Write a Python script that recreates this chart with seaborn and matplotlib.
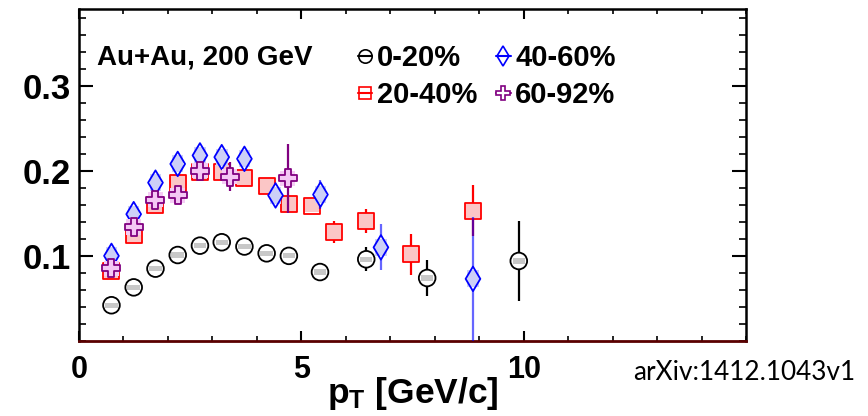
import matplotlib
matplotlib.use("Agg")
import matplotlib.pyplot as plt
import seaborn as sns
import pandas as pd
from matplotlib.patches import Rectangle
from matplotlib.lines import Line2D
from matplotlib.ticker import MultipleLocator

# ---------------- data ----------------
pt_0_20 = [0.73, 1.23, 1.72, 2.22, 2.72, 3.21, 3.72, 4.22, 4.72, 5.42, 6.46, 7.83, 9.89]
v_0_20 = [0.042, 0.063, 0.085, 0.101, 0.112, 0.116, 0.111, 0.103, 0.100, 0.081, 0.096, 0.074, 0.094]
stat_0_20 = [0.002, 0.002, 0.002, 0.002, 0.002, 0.002, 0.002, 0.002, 0.002, 0.004, 0.014, 0.021, 0.047]
sys_0_20 = [0.003, 0.003, 0.003, 0.003, 0.003, 0.003, 0.003, 0.003, 0.003, 0.003, 0.003, 0.003, 0.003]

pt_20_40 = [0.73, 1.23, 1.72, 2.22, 2.72, 3.21, 3.72, 4.22, 4.72, 5.23, 5.74, 6.46, 7.47, 8.86]
v_20_40 = [0.082, 0.125, 0.160, 0.186, 0.198, 0.198, 0.191, 0.182, 0.161, 0.159, 0.128, 0.141, 0.102, 0.153]
stat_20_40 = [0.002, 0.002, 0.002, 0.002, 0.002, 0.002, 0.002, 0.002, 0.003, 0.004, 0.013, 0.014, 0.024, 0.030]
sys_20_40 = [0.009, 0.009, 0.009, 0.009, 0.009, 0.009, 0.009, 0.009, 0.009, 0.008, 0.008, 0.008, 0.008, 0.008]

pt_40_60 = [0.73, 1.23, 1.72, 2.22, 2.72, 3.21, 3.72, 4.42, 5.43, 6.79, 8.86]
v_40_60 = [0.100, 0.149, 0.186, 0.208, 0.218, 0.216, 0.214, 0.171, 0.172, 0.110, 0.073]
stat_40_60 = [0.003, 0.003, 0.003, 0.003, 0.003, 0.003, 0.003, 0.004, 0.017, 0.027, 0.073]
sys_40_60 = [0.010, 0.010, 0.010, 0.010, 0.010, 0.010, 0.010, 0.010, 0.010, 0.010, 0.010]

pt_60_92 = [0.73, 1.23, 1.72, 2.22, 2.72, 3.39, 4.69]
v_60_92 = [0.0855, 0.134, 0.166, 0.171, 0.200, 0.193, 0.191]
stat_60_92 = [0.004, 0.005, 0.005, 0.005, 0.006, 0.017, 0.041]
sys_60_92 = [0.009, 0.009, 0.009, 0.009, 0.009, 0.009, 0.009]

labels = ["0-20%", "20-40%", "40-60%", "60-92%"]
x_ticks = [0, 5, 10]
y_ticks = [0.1, 0.2, 0.3]

# ---------------- style ----------------
sns.set_theme(style="ticks")
plt.rcParams["font.family"] = ["Liberation Sans", "DejaVu Sans"]
plt.rcParams["font.weight"] = "bold"
for k in ["text.color", "axes.labelcolor", "xtick.color", "ytick.color", "axes.edgecolor"]:
    plt.rcParams[k] = "black"
plt.rcParams["mathtext.fontset"] = "custom"
plt.rcParams["mathtext.rm"] = "Liberation Sans:bold"
plt.rcParams["mathtext.bf"] = "Liberation Sans:bold"
plt.rcParams["mathtext.it"] = "Liberation Sans:bold"

series = [
    dict(pt=pt_0_20, v=v_0_20, stat=stat_0_20, sys=sys_0_20, label=labels[0],
         marker="o", ms=12, edge="black", face="none", ecol="black", ealpha=1.0,
         boxcol="#c8c8c8", boxhw=0.14),
    dict(pt=pt_20_40, v=v_20_40, stat=stat_20_40, sys=sys_20_40, label=labels[1],
         marker="s", ms=11.5, edge="#ff0000", face="none", ecol="#ff0000", ealpha=1.0,
         boxcol="#fbc6c6", boxhw=0.17),
    dict(pt=pt_40_60, v=v_40_60, stat=stat_40_60, sys=sys_40_60, label=labels[2],
         marker="d", ms=12.5, edge="#0000ff", face="none", ecol="#0000ff", ealpha=0.6,
         boxcol="#cdd0f7", boxhw=0.13),
    dict(pt=pt_60_92, v=v_60_92, stat=stat_60_92, sys=sys_60_92, label=labels[3],
         marker="P", ms=13, edge="#800080", face="#f5c8f5", ecol="#800080", ealpha=1.0,
         boxcol="#f5ccf5", boxhw=0.17),
]

fig = plt.figure(figsize=(8.68, 4.16), dpi=100)
ax = fig.add_axes([79 / 868, 75 / 416, 667 / 868, 332 / 416])
ax.set_facecolor("white")

for i, s in enumerate(series):
    z = 10 * (i + 1)
    df = pd.DataFrame({"pt": s["pt"], "v": s["v"], "stat": s["stat"], "sys": s["sys"]})
    # statistical error bars
    ax.errorbar(df.pt, df.v, yerr=df.stat, fmt="none", ecolor=s["ecol"], alpha=s["ealpha"],
                elinewidth=1.6, capsize=0, zorder=z)
    # marker interior (hides the error line inside the marker)
    sns.scatterplot(data=df, x="pt", y="v", ax=ax, marker=s["marker"], s=s["ms"] ** 2,
                    color="white", edgecolor="none", linewidth=0, zorder=z + 1, legend=False)
    # systematic boxes
    for _, r in df.iterrows():
        ax.add_patch(Rectangle((r.pt - s["boxhw"], r.v - r.sys), 2 * s["boxhw"], 2 * r.sys,
                               facecolor=s["boxcol"], edgecolor="none", zorder=z + 2))
    # markers
    sns.scatterplot(data=df, x="pt", y="v", ax=ax, marker=s["marker"], s=s["ms"] ** 2,
                    facecolor=s["face"], edgecolor=s["edge"], linewidth=1.3, zorder=z + 3,
                    legend=False)

ax.set_xlim(0, 15)
ax.set_ylim(0, 0.39)
ax.set_xticks(x_ticks)
ax.set_yticks(y_ticks)
ax.set_yticklabels([f"{t:.1f}" for t in y_ticks])
ax.xaxis.set_minor_locator(MultipleLocator(1))
ax.yaxis.set_minor_locator(MultipleLocator(0.02))
ax.tick_params(axis="x", which="major", direction="in", length=7, width=1.5,
               top=True, labelsize=22, pad=10)
ax.tick_params(axis="x", which="minor", direction="in", length=3.5, width=1.2, top=True)
ax.tick_params(axis="y", which="major", direction="in", length=10, width=1.5,
               right=True, labelsize=25, pad=6)
ax.tick_params(axis="y", which="minor", direction="in", length=5, width=1.2, right=True)
for lab in ax.get_xticklabels() + ax.get_yticklabels():
    lab.set_fontweight("bold")
for sp in ["left", "right", "top"]:
    ax.spines[sp].set_linewidth(1.8)
    ax.spines[sp].set_color("black")
ax.spines["bottom"].set_linewidth(2.0)
ax.spines["bottom"].set_color("#5a0000")

ax.set_ylabel("")
ax.set_xlabel(r"p$_{\mathrm{T}}$ [GeV/c]", fontsize=25.5, fontweight="bold")
ax.xaxis.set_label_coords(0.5, -0.158)
ax.xaxis.label.set_va("center")

ax.text(0.027, 0.855, "Au+Au, 200 GeV", transform=ax.transAxes, fontsize=20,
        fontweight="bold", va="center", ha="left")

handles = [Line2D([], [], color=s["edge"], marker=s["marker"], markersize=s["ms"] * 0.8,
                  markerfacecolor=("none" if s["face"] == "none" else "white"),
                  markeredgecolor=s["edge"], linewidth=1.5, markeredgewidth=1.2)
           for s in series]
leg = ax.legend(handles, labels, ncol=2, loc="upper left", bbox_to_anchor=(0.418, 0.895),
                frameon=False, fontsize=21, handlelength=0.5, handletextpad=0.15,
                columnspacing=0.65, labelspacing=0.32, borderpad=0, borderaxespad=0)
for t in leg.get_texts():
    t.set_fontweight("bold")

fig.text(633 / 868, 1 - 372 / 416, "arXiv:1412.1043v1", fontsize=18.8, fontweight="normal",
         family=["Lato", "DejaVu Sans"], va="center", ha="left")

fig.savefig("out.png", dpi=100, facecolor="white")
